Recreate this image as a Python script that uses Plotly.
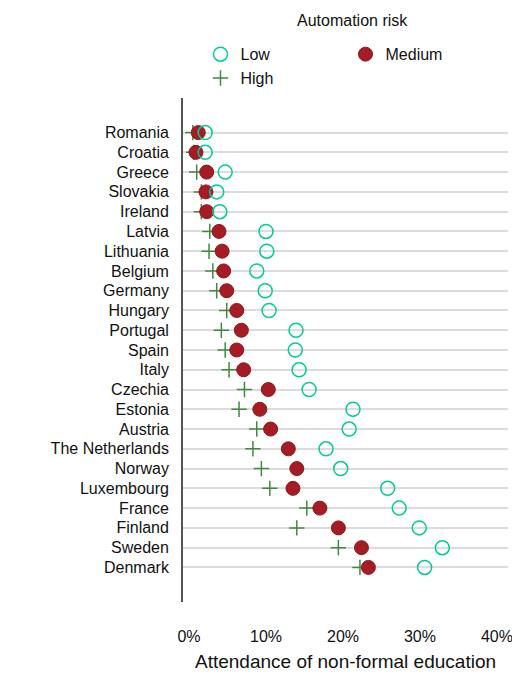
import plotly.graph_objects as go

countries = ["Romania","Croatia","Greece","Slovakia","Ireland","Latvia","Lithuania","Belgium",
             "Germany","Hungary","Portugal","Spain","Italy","Czechia","Estonia","Austria",
             "The Netherlands","Norway","Luxembourg","France","Finland","Sweden","Denmark"]
low = [2.1,2.1,4.7,3.6,4.0,10.0,10.1,8.8,9.9,10.4,13.9,13.8,14.3,15.6,21.3,20.8,17.8,19.7,25.8,27.3,29.9,32.9,30.6]
medium = [1.2,0.9,2.3,2.2,2.3,3.9,4.3,4.5,4.9,6.2,6.8,6.2,7.1,10.3,9.2,10.6,12.9,14.0,13.5,17.0,19.4,22.4,23.3]
high = [0.5,0.6,1.0,1.6,1.6,2.7,2.6,3.1,3.6,4.9,4.2,4.7,5.2,7.2,6.5,8.8,8.3,9.4,10.5,15.3,14.0,19.4,22.2]

F = "Liberation Sans, Arial, sans-serif"
fig = go.Figure()
fig.add_trace(go.Scatter(x=high, y=countries, mode="markers", name="High",
    marker=dict(symbol="cross-thin", size=11, line=dict(color="#3f8a3f", width=1.5))))
fig.add_trace(go.Scatter(x=medium, y=countries, mode="markers", name="Medium",
    marker=dict(symbol="circle", size=14, color="#a51c24", line=dict(color="#8a1a1f", width=1))))
fig.add_trace(go.Scatter(x=low, y=countries, mode="markers", name="Low",
    marker=dict(symbol="circle-open", size=14, line=dict(color="#3a6fb5", width=1.5))))

fig.update_layout(
    width=520, height=673, plot_bgcolor="white", paper_bgcolor="white",
    margin=dict(l=175, r=20, t=90, b=73),
    font=dict(family=F, size=16, color="#111"),
    legend=dict(orientation="h", traceorder="reversed", x=0.5, xanchor="center",
                y=1.063, yanchor="middle", font=dict(size=16),
                itemsizing="trace", entrywidth=100),
    annotations=[dict(text="Automation risk", x=0.52, xref="paper", y=1.153, yref="paper",
                      yanchor="middle", showarrow=False, font=dict(size=16))],
    showlegend=True,
)
fig.update_xaxes(range=[-0.78, 41.43], tickvals=[0,10,20,30,40],
                 ticktext=["0%","10%","20%","30%","40%"], showgrid=False, zeroline=False,
                 ticks="outside", ticklen=20, tickcolor="rgba(0,0,0,0)",
                 title=dict(text="Attendance of non-formal education", standoff=10))
fig.update_yaxes(categoryorder="array", categoryarray=countries, range=[23.75, -1.75],
                 showgrid=True, gridcolor="#dcdcdc", gridwidth=1.5, showline=True,
                 linecolor="#555", linewidth=2, ticks="", ticksuffix="  ")
fig.write_html("out.html")
